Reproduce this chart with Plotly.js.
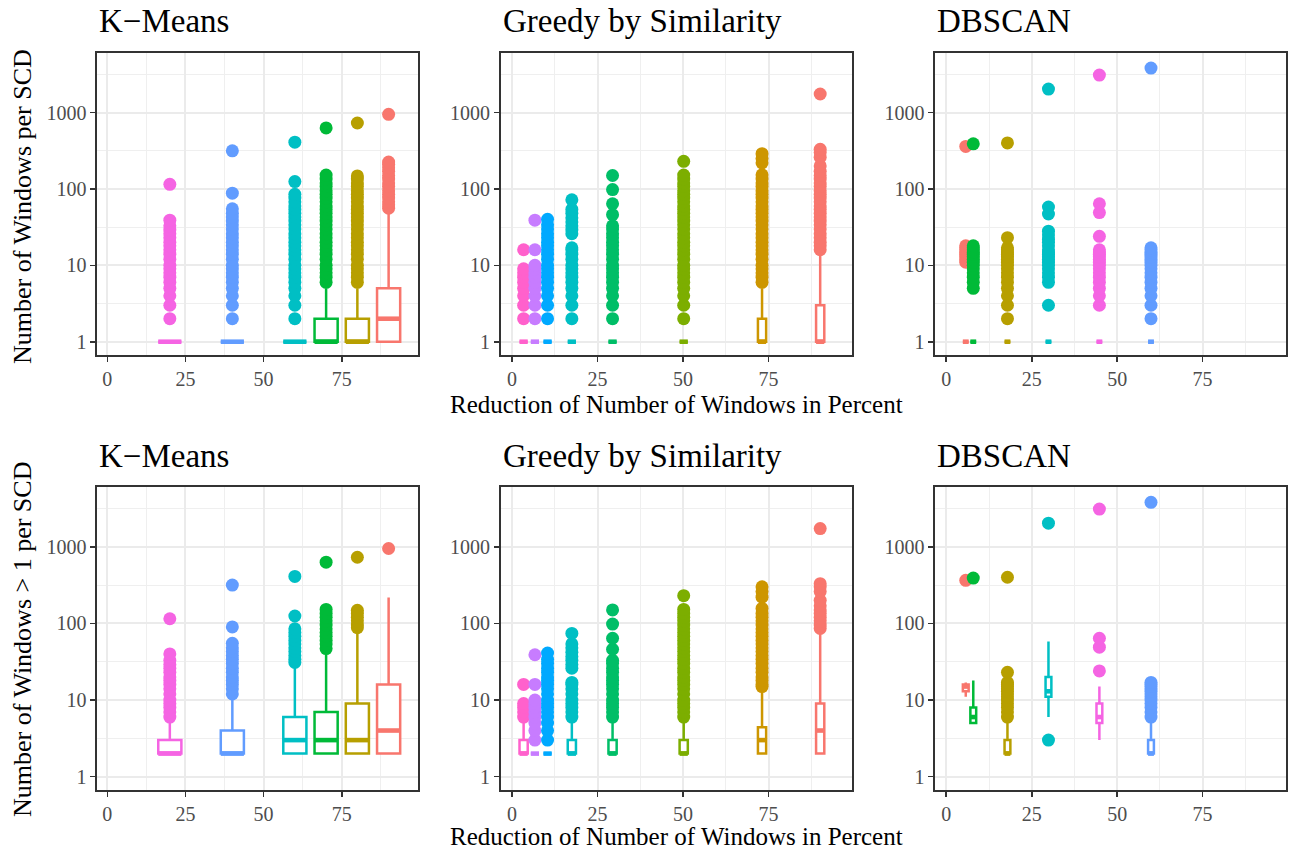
<!DOCTYPE html>
<html><head><meta charset="utf-8">
<script src="https://cdn.plot.ly/plotly-3.0.1.min.js"></script>
<style>html,body{margin:0;padding:0;background:#fff}#chart{width:1289px;height:850px}</style>
</head><body><div id="chart"></div>
<script>
// ---------- tick labels / titles ----------
const xTickVals = [0, 25, 50, 75];
const xMinorVals = [12.5, 37.5, 62.5, 87.5];
const yTickVals = [1, 10, 100, 1000];
const yTickText = ['1', '10', '100', '1000'];
const yMinorVals = [3.162, 31.62, 316.2, 3162];
const panelTitles = ['K\u2212Means', 'Greedy by Similarity', 'DBSCAN'];
const xTitle = 'Reduction of Number of Windows in Percent';
const yTitleTop = 'Number of Windows per SCD';
const yTitleBottom = 'Number of Windows > 1 per SCD';

// ---------- K-Means ----------
const kmX = [20, 40, 60, 70, 80, 90];
// top row: all windows
const kmTopQ1  = [1, 1, 1, 1, 1, 1];
const kmTopMed = [1, 1, 1, 1, 1, 2];
const kmTopQ3  = [1, 1, 1, 2, 2, 5];
const kmTopLo  = [1, 1, 1, 1, 1, 1];
const kmTopHi  = [1, 1, 1, 5, 5, 55];
const kmTopOut = [
  [2,3,4,5,6,7,8,9,10,12,14,16,18,20,23,26,29,33,39,115],
  [2,3,4,5,6,7,8,9,10,12,14,16,18,20,23,26,30,34,38,43,48,55,88,316],
  [2,3,4,5,6,7,8,9,10,12,14,16,18,20,23,26,30,34,38,43,48,54,60,68,76,85,125,410],
  [6,7,8,9,10,12,14,16,18,20,23,26,30,34,38,43,48,54,60,68,76,85,95,108,120,135,152,630],
  [6,7,8,9,10,12,14,16,18,20,23,26,30,34,38,43,48,54,60,68,76,85,95,108,120,135,148,730],
  [56,62,68,76,85,95,108,120,135,150,170,190,210,225,950]
];
// bottom row: windows > 1
const kmBotQ1  = [2, 2, 2, 2, 2, 2];
const kmBotMed = [2, 2, 3, 3, 3, 4];
const kmBotQ3  = [3, 4, 6, 7, 9, 16];
const kmBotLo  = [2, 2, 2, 2, 2, 2];
const kmBotHi  = [5, 11, 28, 41, 85, 218];
const kmBotOut = [
  [6,7,8,9,10,12,14,16,18,20,23,26,29,33,40,115],
  [12,14,16,18,20,23,26,30,34,38,43,48,55,90,316],
  [31,34,38,43,48,54,60,68,76,85,125,410],
  [47,54,60,68,76,85,95,108,120,135,152,630],
  [88,95,108,120,135,148,730],
  [950]
];

// ---------- Greedy by Similarity ----------
const grX = [3.4, 6.7, 10.4, 17.5, 29.4, 50.2, 73.1, 90.1];
const grTopQ1  = [1, 1, 1, 1, 1, 1, 1, 1];
const grTopMed = [1, 1, 1, 1, 1, 1, 1, 1];
const grTopQ3  = [1, 1, 1, 1, 1, 1, 2, 3];
const grTopLo  = [1, 1, 1, 1, 1, 1, 1, 1];
const grTopHi  = [1, 1, 1, 1, 1, 1, 5, 15];
const grTopOut = [
  [2,3,4,5,6,7,8,9,16],
  [2,3,4,5,6,7,8,9,10,16,39],
  [2,3,4,5,6,7,8,9,10,12,14,16,18,20,23,26,30,34,40],
  [2,3,4,5,6,7,8,9,10,12,14,16,17,26,29,33,37,42,48,54,72],
  [2,3,4,5,6,7,8,9,10,12,14,16,18,20,23,26,30,33,46,64,98,150],
  [2,3,4,5,6,7,8,9,10,12,14,16,18,20,23,26,30,34,38,43,48,54,60,68,76,85,95,108,120,135,152,230],
  [6,7,8,9,10,12,14,16,18,20,23,26,30,34,38,43,48,54,60,68,76,85,95,108,120,135,153,220,250,290],
  [16,18,20,23,26,30,34,38,43,48,54,60,68,76,85,95,108,120,135,150,170,200,260,300,330,1750]
];
const grBotQ1  = [2, 2, 2, 2, 2, 2, 2, 2];
const grBotMed = [2, 2, 2, 2, 2, 2, 3, 4];
const grBotQ3  = [3, 2, 2, 3, 3, 3, 4.4, 9];
const grBotLo  = [2, 2, 2, 2, 2, 2, 2, 2];
const grBotHi  = [5, 2, 2, 5, 5, 5, 13, 85];
const grBotOut = [
  [6,7,8,9,16],
  [3,4,5,6,7,8,9,10,16,39],
  [3,4,5,6,7,8,9,10,12,14,16,18,20,23,26,30,34,41],
  [6,7,8,9,10,12,14,16,17,26,29,33,37,42,48,54,74],
  [6,7,8,9,10,12,14,16,18,20,23,26,30,33,46,64,98,150],
  [6,7,8,9,10,12,14,16,18,20,23,26,30,34,38,43,48,54,60,68,76,85,95,108,120,135,152,230],
  [15,16,18,20,23,26,30,34,38,43,48,54,60,68,76,85,95,108,120,135,157,220,260,300],
  [86,95,108,120,135,150,170,200,260,300,330,1730]
];

// ---------- DBSCAN ----------
const dbX = [5.7, 17.9, 7.9, 29.9, 59.9, 44.8];
const dbTopQ1  = [1, 1, 1, 1, 1, 1];
const dbTopMed = [1, 1, 1, 1, 1, 1];
const dbTopQ3  = [1, 1, 1, 1, 1, 1];
const dbTopLo  = [1, 1, 1, 1, 1, 1];
const dbTopHi  = [1, 1, 1, 1, 1, 1];
const dbTopOut = [
  [11,12,13,14,15,16,17,18,360],
  [2,3,4,5,6,7,8,9,10,11,12,13,14,15,16,17,23,400],
  [5,6,7,8,9,10,11,12,13,14,15,16,17,18,390],
  [3,6,7,8,9,10,11,12,13,14,15,16,18,20,22,25,28,47,58,2030],
  [2,3,4,5,6,7,8,9,10,11,12,13,14,15,16,17,3830],
  [3,4,5,6,7,8,9,10,11,12,13,14,15,16,24,49,64,3100]
];
const dbBotQ1  = [13, 2, 5, 11, 2, 5];
const dbBotMed = [15, 2, 6, 13, 2, 6];
const dbBotQ3  = [16, 3, 8, 20, 3, 9];
const dbBotLo  = [11, 2, 5, 6, 2, 3];
const dbBotHi  = [17, 5, 18, 58, 5, 15];
const dbBotOut = [
  [365],
  [6,7,8,9,10,11,12,13,14,15,16,17,23,400],
  [390],
  [3,2030],
  [6,7,8,9,10,11,12,13,14,15,16,17,3800],
  [24,49,64,3100]
];

// ---------- styles ----------
const hue6 = ['#F564E3', '#619CFF', '#00BFC4', '#00BA38', '#B79F00', '#F8766D'];
const hue8 = ['#FF61CC', '#C77CFF', '#00A9FF', '#00BFC4', '#00BE67', '#7CAE00', '#CD9600', '#F8766D'];
const hueDb = ['#F8766D', '#B79F00', '#00BA38', '#00BFC4', '#619CFF', '#F564E3'];

const W = 1289, H = 850;
const FONT = 'Liberation Serif, Times New Roman, serif';
const colsPx = [[97, 418], [500.7, 852], [935, 1286]];
const rowsPx = [[53, 355], [487, 790]];

const panels = [
  {ax: 1, x: kmX, q1: kmTopQ1, med: kmTopMed, q3: kmTopQ3, lo: kmTopLo, hi: kmTopHi, out: kmTopOut, col: hue6, w: 7.4},
  {ax: 2, x: grX, q1: grTopQ1, med: grTopMed, q3: grTopQ3, lo: grTopLo, hi: grTopHi, out: grTopOut, col: hue8, w: 2.4},
  {ax: 3, x: dbX, q1: dbTopQ1, med: dbTopMed, q3: dbTopQ3, lo: dbTopLo, hi: dbTopHi, out: dbTopOut, col: hueDb, w: 1.7},
  {ax: 4, x: kmX, q1: kmBotQ1, med: kmBotMed, q3: kmBotQ3, lo: kmBotLo, hi: kmBotHi, out: kmBotOut, col: hue6, w: 7.4},
  {ax: 5, x: grX, q1: grBotQ1, med: grBotMed, q3: grBotQ3, lo: grBotLo, hi: grBotHi, out: grBotOut, col: hue8, w: 2.4},
  {ax: 6, x: dbX, q1: dbBotQ1, med: dbBotMed, q3: dbBotQ3, lo: dbBotLo, hi: dbBotHi, out: dbBotOut, col: hueDb, w: 1.7}
];

const traces = [];
panels.forEach(p => {
  const xa = p.ax === 1 ? 'x' : 'x' + p.ax;
  const ya = p.ax === 1 ? 'y' : 'y' + p.ax;
  p.x.forEach((pos, i) => {
    const c = p.col[i];
    traces.push({
      type: 'scatter', mode: 'markers', xaxis: xa, yaxis: ya,
      x: p.out[i].map(() => pos), y: p.out[i],
      marker: {color: c, size: 13, line: {width: 0}},
      showlegend: false, hoverinfo: 'skip'
    });
    traces.push({
      type: 'box', xaxis: xa, yaxis: ya,
      x: [pos], q1: [p.q1[i]], median: [p.med[i]], q3: [p.q3[i]],
      lowerfence: [p.lo[i]], upperfence: [p.hi[i]],
      width: p.w, whiskerwidth: 0, boxpoints: false,
      line: {color: c, width: 2.5}, fillcolor: 'white',
      showlegend: false, hoverinfo: 'skip'
    });
    traces.push({
      type: 'scatter', mode: 'lines', xaxis: xa, yaxis: ya,
      x: [pos - p.w / 2, pos + p.w / 2], y: [p.med[i], p.med[i]],
      line: {color: c, width: 4.6},
      showlegend: false, hoverinfo: 'skip'
    });
  });
});

const layout = {
  width: W, height: H,
  margin: {l: 0, r: 0, t: 0, b: 0},
  paper_bgcolor: 'white', plot_bgcolor: 'white',
  boxmode: 'overlay', showlegend: false,
  font: {family: FONT},
  annotations: [], shapes: []
};

for (let r = 0; r < 2; r++) {
  for (let c = 0; c < 3; c++) {
    const n = r * 3 + c + 1;
    const xk = n === 1 ? 'xaxis' : 'xaxis' + n;
    const yk = n === 1 ? 'yaxis' : 'yaxis' + n;
    layout[xk] = {
      domain: [colsPx[c][0] / W, colsPx[c][1] / W],
      anchor: n === 1 ? 'y' : 'y' + n,
      range: [-3.3, 99.4], tickmode: 'array', tickvals: xTickVals,
      showgrid: true, gridcolor: '#EBEBEB', gridwidth: 2,
      minor: {tickmode: 'array', tickvals: xMinorVals, showgrid: true, gridcolor: '#EFEFEF', gridwidth: 1, ticks: ''},
      showline: true, mirror: true, linecolor: '#333333', linewidth: 1.6,
      ticks: 'outside', ticklen: 5, tickwidth: 1.6, tickcolor: '#333333',
      tickfont: {family: FONT, size: 20, color: '#4D4D4D'},
      zeroline: false, automargin: false, fixedrange: true
    };
    layout[yk] = {
      domain: [1 - rowsPx[r][1] / H, 1 - rowsPx[r][0] / H],
      anchor: n === 1 ? 'x' : 'x' + n,
      type: 'log', range: [-0.174, 3.78],
      tickmode: 'array', tickvals: yTickVals, ticktext: yTickText,
      showgrid: true, gridcolor: '#EBEBEB', gridwidth: 2,
      minor: {tickmode: 'array', tickvals: yMinorVals, showgrid: true, gridcolor: '#EFEFEF', gridwidth: 1, ticks: ''},
      showline: true, mirror: true, linecolor: '#333333', linewidth: 1.6,
      ticks: 'outside', ticklen: 5, tickwidth: 1.6, tickcolor: '#333333',
      tickfont: {family: FONT, size: 20, color: '#4D4D4D'},
      zeroline: false, automargin: false, fixedrange: true
    };
    layout.annotations.push({
      text: panelTitles[c], xref: 'paper', yref: 'paper',
      x: colsPx[c][0] / W, y: 1 - (r === 0 ? 21 : 456) / H,
      xanchor: 'left', yanchor: 'middle', showarrow: false,
      font: {family: FONT, size: 33, color: '#000000'}
    });
  }
  layout.annotations.push({
    text: xTitle, xref: 'paper', yref: 'paper',
    x: 676 / W, y: 1 - (r === 0 ? 404 : 836) / H,
    xanchor: 'center', yanchor: 'middle', showarrow: false,
    font: {family: FONT, size: 25, color: '#000000'}
  });
  layout.annotations.push({
    text: r === 0 ? yTitleTop : yTitleBottom, xref: 'paper', yref: 'paper',
    x: 22 / W, y: 1 - (r === 0 ? 207 : 640) / H, textangle: -90,
    xanchor: 'center', yanchor: 'middle', showarrow: false,
    font: {family: FONT, size: 26, color: '#000000'}
  });
}

Plotly.newPlot('chart', traces, layout, {staticPlot: true, displayModeBar: false});
</script>
</body></html>
